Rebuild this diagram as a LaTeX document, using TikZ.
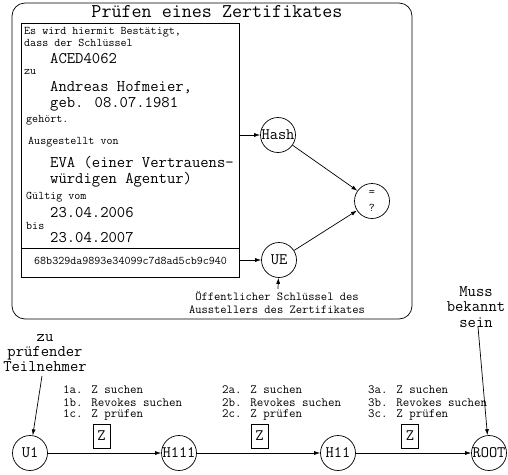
\documentclass[tikz,border=0pt]{standalone}
\usepackage{fontspec}
\usetikzlibrary{arrows.meta}
\newcommand{\fs}[1]{\ttfamily\fontsize{#1}{#1}\selectfont}
\tikzset{
  lw/.style={line width=0.7pt},
  arr/.style={lw,-{Latex[length=6pt,width=4pt]}},
  circ/.style={circle,draw,lw,minimum size=35pt,inner sep=0pt,font=\fs{16}},
  sm/.style={anchor=west,inner sep=0pt,font=\fs{11.7}},
  big/.style={anchor=west,inner sep=0pt,font=\fs{16.2}},
  stp/.style={anchor=west,inner sep=0pt,font=\fs{12.6}},
  lbl/.style={align=center,inner sep=0pt,font=\ttfamily\fontsize{16.2}{15.2}\selectfont},
  zbox/.style={draw,lw,minimum width=17pt,minimum height=24pt,inner sep=0pt,font=\fs{16}}
}
\begin{document}
\begin{tikzpicture}[x=1pt,y=-1pt]
\useasboundingbox (0,0) rectangle (508,474);
% outer frame
\draw[lw,rounded corners=13pt] (12,3) rectangle (412,319);
\node[inner sep=0pt,font=\fs{19.5}] (title) at (217,12) {Prüfen eines Zertifikates};
% certificate
\draw[lw] (21,23) rectangle (239,277);
\draw[lw] (21,248) -- (239,248);
\coordinate (certH) at (239,135);
\coordinate (certU) at (239,260);
\node[sm] (t1) at (24,32) {Es wird hiermit Bestätigt,};
\node[sm] (t2) at (24,43) {dass der Schlüssel};
\node[big] (t3) at (50,59) {ACED4062};
\node[sm] (t4) at (24,72) {zu};
\node[big] (t5) at (50,88) {Andreas Hofmeier,};
\node[big] (t6) at (50,104.5) {geb. 08.07.1981};
\node[sm] (t7) at (26,120) {gehört.};
\node[sm] (t8) at (28,142) {Ausgestellt von};
\node[big] (t9) at (50,163) {EVA (einer Vertrauens-};
\node[big] (t10) at (50,180) {würdigen Agentur)};
\node[sm] (t11) at (26,197) {Gültig vom};
\node[sm] (t12) at (26,226) {bis};
\node[big] (t13) at (50,213) {23.04.2006};
\node[big] (t14) at (50,238) {23.04.2007};
\node[sm] (hex) at (34,261) {68b329da9893e34099c7d8ad5cb9c940};
% circles top
\node[circ] (hash) at (278,135) {Hash};
\node[circ] (ue) at (279,260) {UE};
\node[circ,align=center,font=\ttfamily\fontsize{11.7}{16}\selectfont] (eq) at (372,201) {=\\?};
\draw[arr] (certH) -- (hash);
\draw[arr] (certU) -- (ue);
\draw[arr] (hash) -- (eq);
\draw[arr] (ue) -- (eq);
\node[align=center,inner sep=0pt,font=\ttfamily\fontsize{12.2}{13}\selectfont] (pk) at (277,302) {Öffentlicher Schlüssel des\\Ausstellers des Zertifikates};
\coordinate (pkt) at (278,289);
\draw[arr] (pkt) -- (ue);
% bottom chain
\node[circ] (u1) at (30,453) {U1};
\node[circ] (h111) at (179,453) {H111};
\node[circ] (h11) at (338,453) {H11};
\node[circ] (root) at (489,453) {ROOT};
\draw[arr] (u1) -- (h111);
\draw[arr] (h111) -- (h11);
\draw[arr] (h11) -- (root);
\node[zbox] (z1) at (101.5,436) {Z};
\node[zbox] (z2) at (259.5,436) {Z};
\node[zbox] (z3) at (410,436) {Z};
\node[stp] (s1a) at (63,390) {1a. Z suchen};
\node[stp] (s1b) at (63,402.5) {1b. Revokes suchen};
\node[stp] (s1c) at (63,415) {1c. Z prüfen};
\node[stp] (s2a) at (222,390) {2a. Z suchen};
\node[stp] (s2b) at (222,402.5) {2b. Revokes suchen};
\node[stp] (s2c) at (222,415) {2c. Z prüfen};
\node[stp] (s3a) at (368,390) {3a. Z suchen};
\node[stp] (s3b) at (368,402.5) {3b. Revokes suchen};
\node[stp] (s3c) at (368,415) {3c. Z prüfen};
\node[lbl] (zu) at (45,353) {zu\\prüfender\\Teilnehmer};
\coordinate (zuA) at (42,376);
\draw[arr] (zuA) -- (u1);
\node[lbl] (muss) at (476,307) {Muss\\bekannt\\sein};
\coordinate (mussA) at (478,327);
\draw[arr] (mussA) -- (root);
\end{tikzpicture}
\end{document}
